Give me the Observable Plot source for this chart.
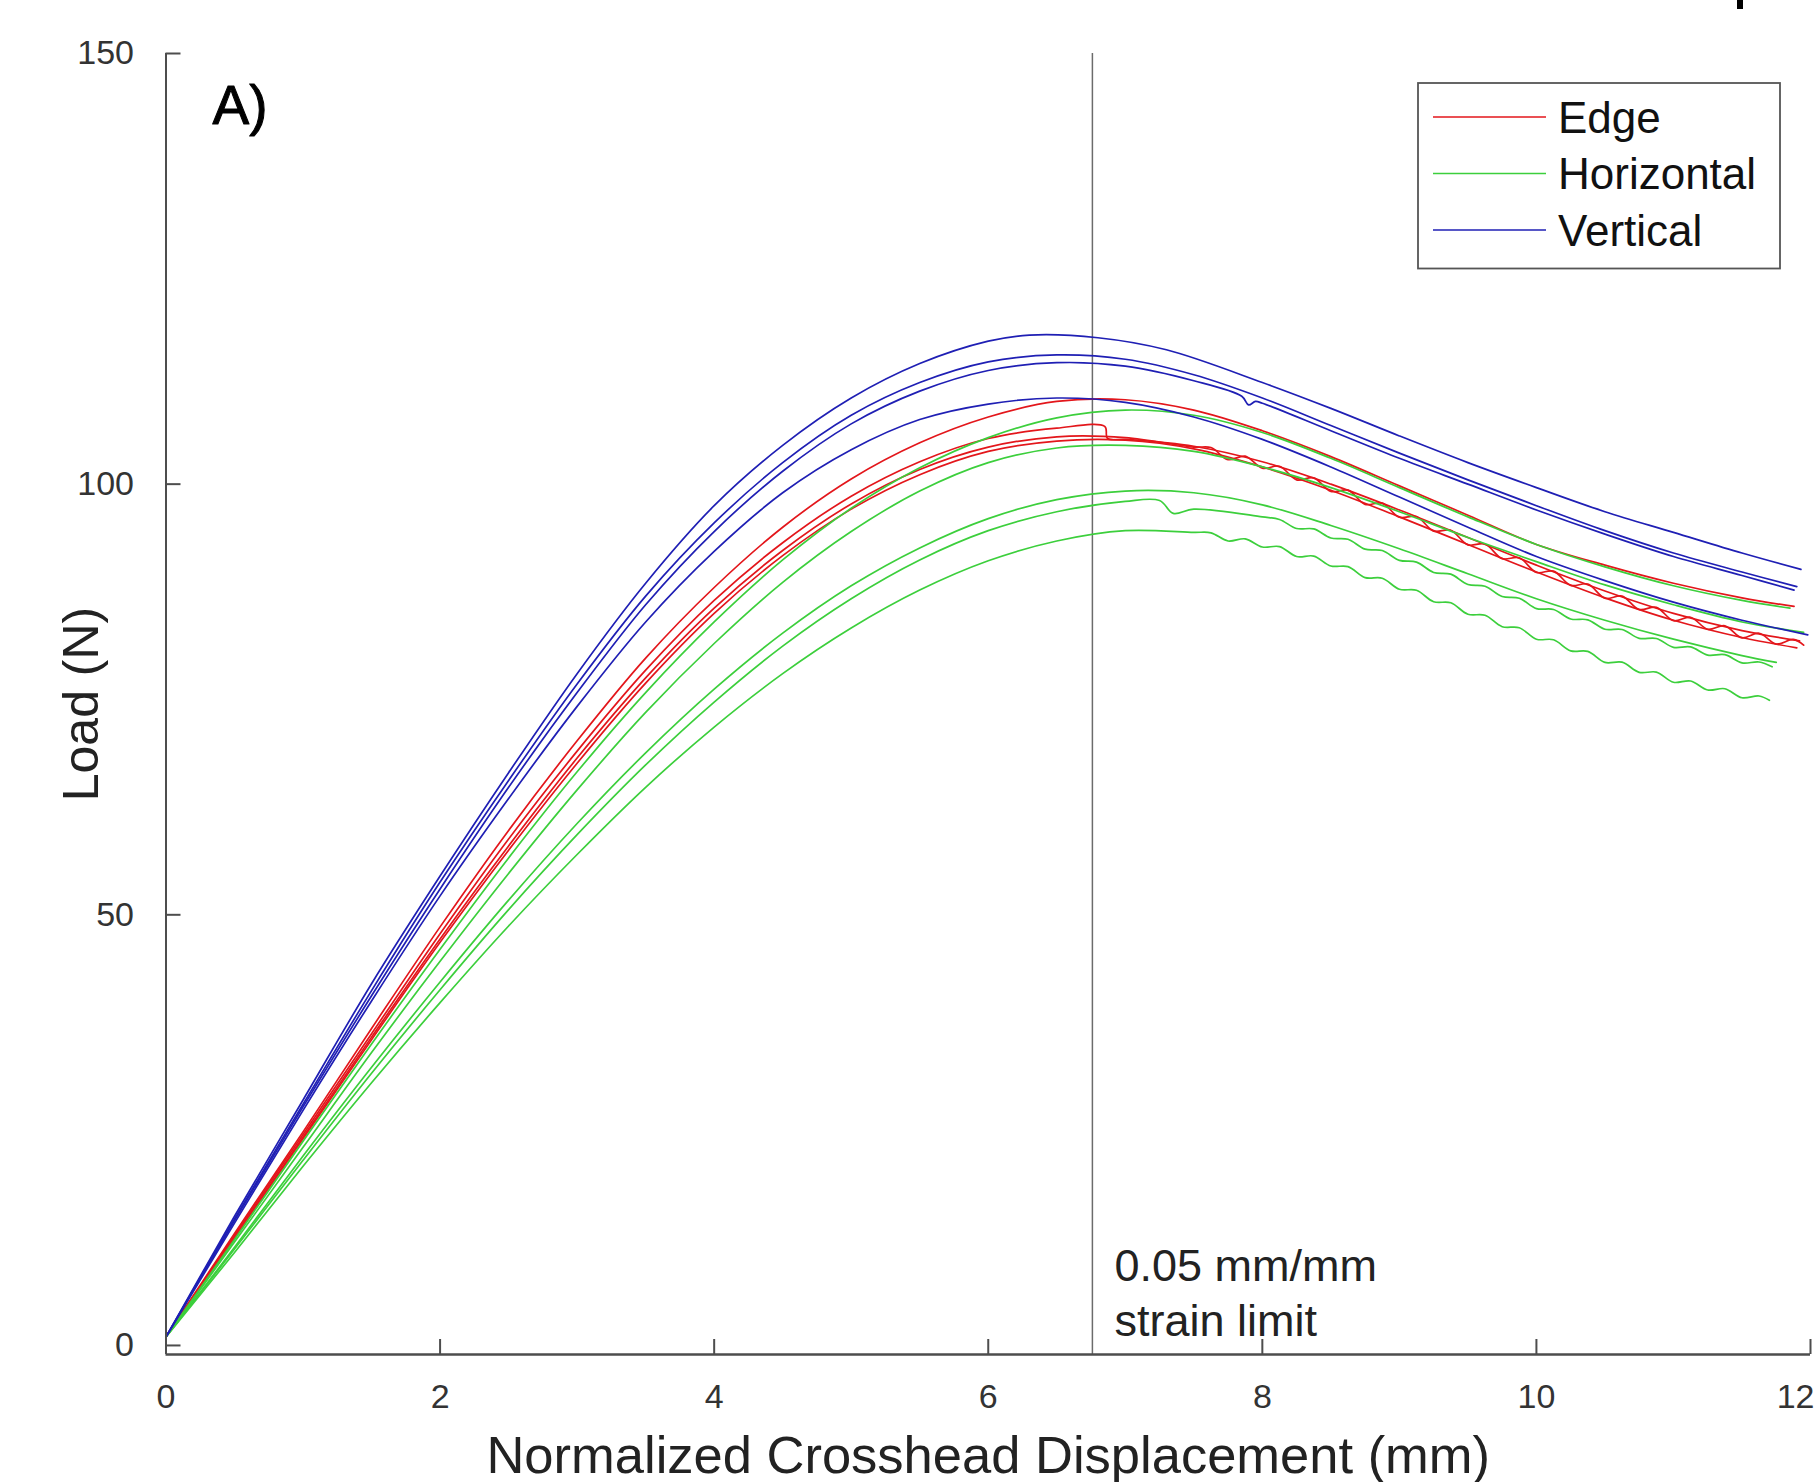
<!DOCTYPE html>
<html>
<head>
<meta charset="utf-8">
<script src="https://cdn.jsdelivr.net/npm/d3@7"></script>
<script src="https://cdn.jsdelivr.net/npm/@observablehq/plot@0.6"></script>
<style>
  html, body { margin: 0; padding: 0; background: #fff; overflow: hidden; }
  #wrap { position: relative; width: 1815px; height: 1482px; }
  #wrap svg { position: absolute; left: 0; top: 0; }
  #corner { position: absolute; left: 1737px; top: 0; width: 6px; height: 9px; background: #000; }
</style>
</head>
<body>
<div id="wrap"></div>
<script>
// ---------- data ----------
const groups = ["Edge", "Horizontal", "Vertical"];
const groupColors = ["#e3161b", "#3ccf3c", "#1f1fb4"];
const xTicks = [0, 2, 4, 6, 8, 10, 12];
const yTicks = [0, 50, 100, 150];
const xDomain = [0, 12];
const yDomain = [-1.05, 150];
const strainLimitX = 6.76;
const strainLabel = "0.05 mm/mm\nstrain limit";
const panelLabel = "A)";
const xLabel = "Normalized Crosshead Displacement (mm)";
const yLabel = "Load (N)";

// Edge specimens
const edge1 = [[0,1],[0.5,13],[1,24.8],[1.5,36.8],[2,48.6],[2.5,59.8],[3,70.2],[3.5,79.8],[4,88],[4.5,95],[5,100.6],[5.5,104.8],[6,107.8],[6.5,109.6],[7,109.8],[7.5,108.6],[8,106.2],[8.5,103.2],[9,99.8],[9.5,96.4],[10,93],[10.5,90.6],[11,88.5],[11.5,86.8],[11.88,85.8]];
const edge2 = [[0,1],[0.5,12.8],[1,24.5],[1.5,36.2],[2,47.8],[2.5,58.8],[3,69],[3.5,78.4],[4,86.5],[4.5,93.2],[5,98.6],[5.5,102.6],[6,105.3],[6.5,106.5],[6.85,106.7],[6.87,105.3],[7,105.2],[7.5,104.4],[8,102.6],[8.5,100],[9,97],[9.5,93.8],[10,90.6],[10.5,87.6],[11,85],[11.5,83],[11.92,81.8]];
const edge3 = [[0,1],[0.5,12.6],[1,24.2],[1.5,35.8],[2,47.2],[2.5,58],[3,68.2],[3.5,77.5],[4,85.6],[4.5,92.3],[5,97.7],[5.5,101.7],[6,104.3],[6.5,105.5],[7,105.4],[7.5,104.3],[7.625,104.25],[7.75,102.85],[7.875,103.25],[8,101.85],[8.125,102.08],[8.25,100.5],[8.375,100.73],[8.5,99.15],[8.625,99.3],[8.75,97.65],[8.875,97.8],[9,96.15],[9.125,96.25],[9.25,94.55],[9.375,94.65],[9.5,92.95],[9.625,93.05],[9.75,91.35],[9.875,91.45],[10,89.75],[10.125,89.9],[10.25,88.25],[10.375,88.4],[10.5,86.75],[10.625,87],[10.75,85.45],[10.875,85.7],[11,84.15],[11.125,84.55],[11.25,83.15],[11.375,83.55],[11.5,82.15],[11.625,82.69],[11.75,81.43],[11.875,81.97],[11.95,81.3]];
const edge4 = [[0,1],[0.5,12.5],[1,24],[1.5,35.5],[2,46.8],[2.5,57.5],[3,67.6],[3.5,76.9],[4,85],[4.5,91.7],[5,97.1],[5.5,101.1],[6,103.8],[6.5,105],[7,105.1],[7.5,104.1],[8,102],[8.5,99.3],[9,96.2],[9.5,93],[10,89.8],[10.5,86.8],[11,84.2],[11.5,82.2],[11.9,81]];

// Horizontal specimens
const horiz1 = [[0,1],[0.5,12.3],[1,23.7],[1.5,35],[2,46],[2.5,56.6],[3,66.6],[3.5,75.8],[4,84],[4.5,91.2],[5,97.2],[5.5,101.9],[6,105.4],[6.5,107.7],[7,108.6],[7.5,108],[8,106],[8.5,103],[9,99.6],[9.5,96.2],[10,93],[10.5,90.4],[11,88.2],[11.5,86.5],[11.85,85.6]];
const horiz2 = [[0,1],[0.5,12],[1,23],[1.5,34],[2,44.6],[2.5,54.8],[3,64.5],[3.5,73.5],[4,81.5],[4.5,88.6],[5,94.5],[5.5,99.2],[6,102.5],[6.5,104.2],[7,104.5],[7.5,103.8],[8,102],[8.5,99.6],[9,96.8],[9.5,93.8],[10,91],[10.5,88.3],[11,86],[11.5,84],[11.95,82.8]];
const horiz3 = [[0,1],[0.5,11.4],[1,22],[1.5,32.3],[2,42.2],[2.5,51.7],[3,60.6],[3.5,68.8],[4,76.2],[4.5,82.7],[5,88.2],[5.5,92.6],[6,96],[6.5,98.2],[7,99.2],[7.5,99],[8,97.6],[8.5,95.2],[9,92.5],[9.5,89.6],[10,86.7],[10.5,84.2],[11,82],[11.5,80.1],[11.75,79.3]];
const horiz4 = [[0,1],[0.5,11.2],[1,21.5],[1.5,31.6],[2,41.3],[2.5,50.6],[3,59.3],[3.5,67.4],[4,74.7],[4.5,81.2],[5,86.7],[5.5,91.2],[6,94.6],[6.5,96.8],[7,98],[7.25,98.1],[7.35,96.6],[7.5,97.1],[8,96.2],[8.125,95.9],[8.25,94.85],[8.375,94.8],[8.5,93.75],[8.625,93.6],[8.75,92.45],[8.875,92.3],[9,91.15],[9.125,90.95],[9.25,89.75],[9.375,89.55],[9.5,88.35],[9.625,88.15],[9.75,86.95],[9.875,86.75],[10,85.55],[10.125,85.45],[10.25,84.35],[10.375,84.25],[10.5,83.15],[10.625,83.13],[10.75,82.1],[10.875,82.08],[11,81.05],[11.125,81.1],[11.25,80.15],[11.375,80.2],[11.5,79.25],[11.625,79.35],[11.72,78.8]];
const horiz5 = [[0,1],[0.5,10.8],[1,20.8],[1.5,30.5],[2,39.8],[2.5,48.7],[3,57],[3.5,64.8],[4,71.8],[4.5,78],[5,83.3],[5.5,87.7],[6,91.1],[6.5,93.4],[7,94.6],[7.5,94.4],[7.625,94.35],[7.75,93.4],[7.875,93.65],[8,92.7],[8.125,92.75],[8.25,91.6],[8.375,91.65],[8.5,90.5],[8.625,90.43],[8.75,89.15],[8.875,89.08],[9,87.8],[9.125,87.68],[9.25,86.35],[9.375,86.23],[9.5,84.9],[9.625,84.78],[9.75,83.45],[9.875,83.33],[10,82],[10.125,81.93],[10.25,80.65],[10.375,80.58],[10.5,79.3],[10.625,79.33],[10.75,78.15],[10.875,78.18],[11,77],[11.125,77.15],[11.25,76.1],[11.375,76.25],[11.5,75.2],[11.625,75.4],[11.7,74.9]];

// Vertical specimens
const vert1 = [[0,1],[0.5,15],[1,28.5],[1.5,42],[2,54.5],[2.5,66.5],[3,78],[3.5,88.5],[4,97.5],[4.5,104.5],[5,110],[5.5,114],[6,116.6],[6.3,117.3],[6.8,117],[7.3,115.6],[8,111.8],[8.5,108.8],[9,105.6],[9.5,102.5],[10,99.6],[10.5,96.8],[11,94.4],[11.5,92],[11.93,90.1]];
const vert2 = [[0,1],[0.5,14.7],[1,28],[1.5,41.2],[2,53.8],[2.5,65.6],[3,76.8],[3.5,87],[4,95.5],[4.5,102.5],[5,108],[5.5,111.8],[6,114.2],[6.5,115],[7,114.5],[7.5,112.7],[8,110],[8.5,106.8],[9,103.6],[9.5,100.5],[10,97.5],[10.5,94.6],[11,92],[11.5,89.8],[11.9,88.1]];
const vert3 = [[0,1],[0.5,14.5],[1,27.7],[1.5,40.6],[2,53],[2.5,64.8],[3,75.8],[3.5,86],[4,94.5],[4.5,101.5],[5,107],[5.5,110.8],[6,113.2],[6.5,114.1],[7,113.7],[7.5,112],[7.85,110.2],[7.9,109.2],[7.95,109.6],[8,109.4],[8.5,106.2],[9,103],[9.5,100],[10,97],[10.5,94.2],[11,91.6],[11.5,89.4],[11.88,87.7]];
const vert4 = [[0,1],[0.5,14.2],[1,27.3],[1.5,40],[2,52.2],[2.5,63.5],[3,74.2],[3.5,84],[4,92.2],[4.5,99],[5,104],[5.5,107.5],[6,109.3],[6.5,110],[7,109.5],[7.5,107.8],[8,105.2],[8.5,102],[9,98.5],[9.5,95],[10,91.6],[10.5,88.8],[11,86.3],[11.5,84.2],[11.98,82.5]];

const seriesList = [
  ["Edge", "E1", edge1], ["Edge", "E2", edge2], ["Edge", "E3", edge3], ["Edge", "E4", edge4],
  ["Horizontal", "H1", horiz1], ["Horizontal", "H2", horiz2], ["Horizontal", "H3", horiz3], ["Horizontal", "H4", horiz4], ["Horizontal", "H5", horiz5],
  ["Vertical", "V1", vert1], ["Vertical", "V2", vert2], ["Vertical", "V3", vert3], ["Vertical", "V4", vert4]
];
const rows = seriesList.flatMap(([group, id, pts]) => pts.map(([x, y]) => ({group, id, x, y})));

// ---------- layout ----------
const W = 1815, H = 1482;
const mL = 165.5, mR = 5, mT = 53, mB = 128;
const plotW = W - mL - mR, plotH = H - mT - mB;
const font = "'Liberation Sans', Arial, Helvetica, sans-serif";
const axisColor = "#4d4d4d";
const lastX = xTicks[xTicks.length - 1];

const chart = Plot.plot({
  width: W, height: H,
  marginLeft: mL, marginRight: mR, marginTop: mT, marginBottom: mB,
  style: { fontFamily: font, background: "white" },
  x: { domain: xDomain },
  y: { domain: yDomain },
  color: { domain: groups, range: groupColors },
  marks: [
    Plot.ruleX([strainLimitX], { stroke: "#6b6b6b", strokeWidth: 1.5 }),
    Plot.line(rows, { x: "x", y: "y", z: "id", stroke: "group", strokeWidth: 1.7, curve: "catmull-rom" }),
    Plot.ruleX([xDomain[0]], { stroke: axisColor, strokeWidth: 2 }),
    Plot.ruleY([yDomain[0]], { stroke: axisColor, strokeWidth: 2.5 }),
    Plot.tickY(yTicks, { y: d => d, stroke: axisColor, strokeWidth: 2, insetRight: plotW - 15 }),
    Plot.tickX(xTicks, { x: d => d, stroke: axisColor, strokeWidth: 2, insetTop: plotH - 15 }),
    Plot.axisY(yTicks, { tickSize: 0, tickPadding: 32, fontSize: 34, color: "#333", label: null, tickFormat: d3.format("d") }),
    Plot.axisX(xTicks.filter(t => t < lastX), { tickSize: 0, tickPadding: 29, fontSize: 34, color: "#333", label: null, tickFormat: d3.format("d") }),
    Plot.axisX([lastX], { tickSize: 0, tickPadding: 29, fontSize: 34, color: "#333", label: null, tickFormat: d3.format("d"), textAnchor: "end", dx: 4 }),
    Plot.text([yLabel], { text: d => d, frameAnchor: "left", rotate: -90, dx: -84.5, fontSize: 50, fill: "#222", textAnchor: "middle", lineAnchor: "middle" }),
    Plot.text([xLabel], { text: d => d, frameAnchor: "bottom", dy: 118, fontSize: 52.5, fill: "#222", textAnchor: "middle", lineAnchor: "bottom" }),
    Plot.text([panelLabel], { text: d => d, frameAnchor: "top-left", dx: 46.5, dy: 70, fontSize: 55, fill: "#000", stroke: "#000", strokeWidth: 1, textAnchor: "start", lineAnchor: "bottom" }),
    Plot.text([strainLabel], { x: () => strainLimitX, frameAnchor: "bottom", text: d => d, dx: 22, dy: -19, fontSize: 45, lineHeight: 1.22, fill: "#222", textAnchor: "start", lineAnchor: "bottom" })
  ]
});

const wrap = document.getElementById("wrap");
wrap.appendChild(chart);

// ---------- legend overlay ----------
const lg = d3.select(wrap).append("svg")
  .attr("width", W).attr("height", H)
  .style("pointer-events", "none");
lg.append("rect")
  .attr("x", 1418).attr("y", 83).attr("width", 362).attr("height", 185.5)
  .attr("fill", "#fff").attr("stroke", "#555").attr("stroke-width", 1.8);
groups.forEach((g, i) => {
  const cy = 117 + i * 56.5;
  lg.append("line").attr("x1", 1433).attr("x2", 1546).attr("y1", cy).attr("y2", cy)
    .attr("stroke", groupColors[i]).attr("stroke-width", 1.7);
  lg.append("text").attr("x", 1558).attr("y", cy + 15.5)
    .attr("font-family", font).attr("font-size", 44).attr("fill", "#111").text(g);
});

const corner = document.createElement("div");
corner.id = "corner";
wrap.appendChild(corner);
</script>
</body>
</html>
